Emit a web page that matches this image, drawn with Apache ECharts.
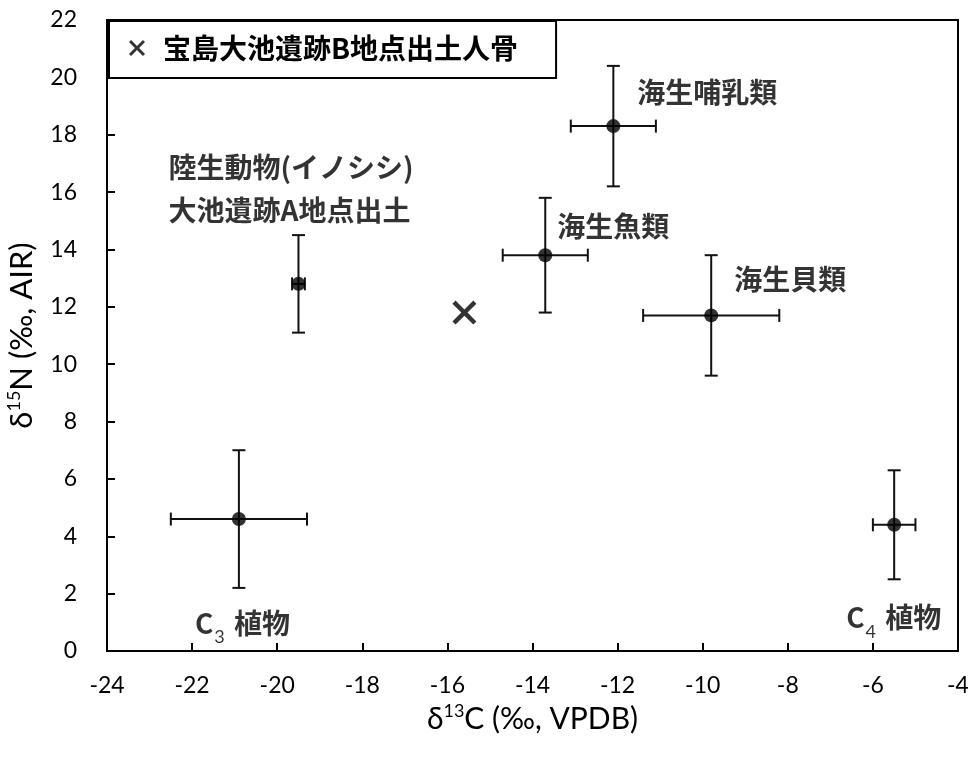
<!DOCTYPE html>
<html><head><meta charset="utf-8">
<script src="https://cdn.jsdelivr.net/npm/echarts@6/dist/echarts.min.js"></script>
<style>html,body{margin:0;padding:0;background:#fff}#c{width:968px;height:757px}</style>
</head><body><div id="c"></div>
<script>
// ---- data ----
const groupNames = ['海生哺乳類', '海生魚類', '海生貝類', '陸生動物(イノシシ)\n大池遺跡A地点出土', 'C{sub|3} 植物', 'C{sub|4} 植物'];
const d13C    = [-12.1, -13.7, -9.8, -19.5, -20.9, -5.5];
const d15N    = [18.3, 13.8, 11.7, 12.8, 4.6, 4.4];
const d13C_sd = [1.0, 1.0, 1.6, 0.15, 1.6, 0.5];
const d15N_sd = [2.1, 2.0, 2.1, 1.7, 2.4, 1.9];
const humanName = '宝島大池遺跡B地点出土人骨';
const humanC = [-15.6];
const humanN = [11.8];
const xTickLabels = [-24, -22, -20, -18, -16, -14, -12, -10, -8, -6, -4];
const yTickLabels = [0, 2, 4, 6, 8, 10, 12, 14, 16, 18, 20, 22];

// ---- layout (pixel offsets of annotation text from each point) ----
const labelOffsets = [[24, -34], [12, -29], [23, -36], [-130, -95], [-44, 104], [-48, 93]];
const labelLineHeights = [43, 43, 43, 43, 46, 46];

const cjk = '"Noto Sans CJK JP", sans-serif';
const num = 'Lato, "Liberation Sans", sans-serif';
const xPath = 'path://M0,2.6 L2.6,0 L10,7.4 L17.4,0 L20,2.6 L12.6,10 L20,17.4 L17.4,20 L10,12.6 L2.6,20 L0,17.4 L7.4,10 Z';

const chart = echarts.init(document.getElementById('c'));

const pointData = d13C.map((x, i) => ({
  value: [x, d15N[i]],
  label: {
    show: true,
    formatter: groupNames[i],
    position: 'inside',
    align: 'left',
    verticalAlign: 'middle',
    offset: labelOffsets[i],
    fontFamily: cjk,
    fontSize: 28,
    fontWeight: 'bold',
    lineHeight: labelLineHeights[i],
    color: '#000',
    textBorderWidth: 0,
    rich: {
      sub: { fontSize: 18, fontFamily: num, fontWeight: 'normal', verticalAlign: 'bottom', lineHeight: 18, color: '#000', padding: [0, 3, 0, 1] }
    }
  }
}));

const errData = d13C.map((x, i) => [x, d15N[i], d13C_sd[i], d15N_sd[i]]);

const supRich = { sup: { fontFamily: num, fontSize: 18, verticalAlign: 'top', lineHeight: 18, color: '#000' } };

chart.setOption({
  animation: false,
  backgroundColor: '#fff',
  grid: { left: 107, right: 10, top: 20, bottom: 106, containLabel: false, outerBoundsMode: 'none', show: true, borderColor: '#000', borderWidth: 2, backgroundColor: 'transparent' },
  legend: {
    left: 109, top: 21,
    data: [{ name: humanName, icon: xPath, itemStyle: { color: '#000' } }],
    itemWidth: 30, itemHeight: 16,
    padding: [12, 38, 15, 20],
    borderColor: '#000', borderWidth: 2,
    backgroundColor: '#fff',
    textStyle: { fontFamily: cjk, fontSize: 28, fontWeight: 'bold', lineHeight: 30, color: '#000', padding: [0, 0, 0, 6] }
  },
  xAxis: {
    type: 'value',
    min: xTickLabels[0], max: xTickLabels[xTickLabels.length - 1], interval: 2,
    splitLine: { show: false },
    axisLine: { lineStyle: { color: '#000', width: 2 } },
    axisTick: { inside: true, length: 8, lineStyle: { color: '#000', width: 2 } },
    axisLabel: { fontFamily: num, fontSize: 23, color: '#000', margin: 23 },
    name: 'δ{sup|13}C (‰, VPDB)',
    nameLocation: 'middle',
    nameGap: 48,
    nameTextStyle: { fontFamily: num, fontSize: 30, lineHeight: 34, color: '#000', rich: supRich }
  },
  yAxis: {
    type: 'value',
    min: yTickLabels[0], max: yTickLabels[yTickLabels.length - 1], interval: 2,
    splitLine: { show: false },
    axisLine: { lineStyle: { color: '#000', width: 2 } },
    axisTick: { inside: true, length: 8, lineStyle: { color: '#000', width: 2 } },
    axisLabel: { fontFamily: num, fontSize: 23, color: '#000', margin: 30 },
    name: 'δ{sup|15}N (‰, AIR)',
    nameLocation: 'middle',
    nameGap: 60,
    nameTextStyle: { fontFamily: num, fontSize: 31, lineHeight: 34, color: '#000', rich: supRich }
  },
  series: [
    {
      type: 'custom',
      name: 'errorbars',
      z: 2,
      silent: true,
      data: errData,
      renderItem: function (params, api) {
        const x = api.value(0), y = api.value(1), ex = api.value(2), ey = api.value(3);
        const l = api.coord([x - ex, y]), r = api.coord([x + ex, y]);
        const t = api.coord([x, y + ey]), b = api.coord([x, y - ey]);
        const cap = 6.5;
        const st = { stroke: '#111', lineWidth: 2, fill: null };
        const line = (x1, y1, x2, y2) => ({ type: 'line', shape: { x1, y1, x2, y2 }, style: st });
        return {
          type: 'group',
          children: [
            line(l[0], l[1], r[0], r[1]),
            line(l[0], l[1] - cap, l[0], l[1] + cap),
            line(r[0], r[1] - cap, r[0], r[1] + cap),
            line(t[0], t[1], b[0], b[1]),
            line(t[0] - cap, t[1], t[0] + cap, t[1]),
            line(b[0] - cap, b[1], b[0] + cap, b[1])
          ]
        };
      }
    },
    {
      type: 'scatter',
      name: 'groups',
      z: 3,
      symbol: 'circle',
      symbolSize: 14,
      itemStyle: { color: '#000' },
      data: pointData
    },
    {
      type: 'scatter',
      name: humanName,
      z: 4,
      symbol: xPath,
      symbolSize: 24,
      itemStyle: { color: '#000' },
      data: humanC.map((x, i) => [x, humanN[i]])
    }
  ]
});
</script>
</body></html>
